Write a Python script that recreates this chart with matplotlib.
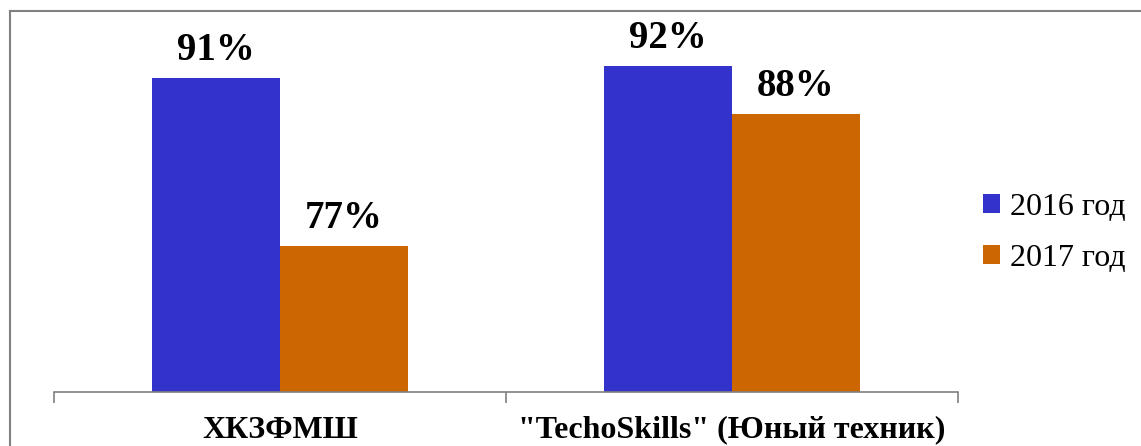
import matplotlib.pyplot as plt
import numpy as np
from matplotlib.lines import Line2D

categories = ["ХКЗФМШ", "\"TechoSkills\" (Юный техник)"]
series_names = ["2016 год", "2017 год"]
values_2016 = [91, 92]
values_2017 = [77, 88]
colors = ["#3333CC", "#CC6600"]

W, H = 1141, 446
fig = plt.figure(figsize=(W / 100, H / 100), dpi=100)
plt.rcParams["font.family"] = ["Liberation Serif", "DejaVu Serif"]

# plot area in pixel coords: x 54..958, baseline at y=392, top at y=11
ax = fig.add_axes([54 / W, (H - 392) / H, (958 - 54) / W, (392 - 11) / H])

x = np.arange(len(categories))
width = 0.283
bars1 = ax.bar(x - width / 2, values_2016, width, color=colors[0], label=series_names[0])
bars2 = ax.bar(x + width / 2, values_2017, width, color=colors[1], label=series_names[1])

for bars in (bars1, bars2):
    for b in bars:
        ax.annotate(f"{b.get_height():.0f}%", (b.get_x() + b.get_width() / 2, b.get_height()),
                    xytext=(0, 6), textcoords="offset points", ha="center", va="bottom",
                    fontsize=28, fontweight="bold")

ax.set_xlim(-0.5, 1.5)
ax.set_ylim(64.8, 64.8 + 381 / 12)
ax.set_yticks([])
ax.set_xticks([-0.5, 0.5, 1.5], minor=False)
ax.set_xticklabels([])
ax.tick_params(axis="x", length=8, color="#808080", width=1.2)
ax.set_xticks(x, minor=True)
ax.set_xticklabels(categories, minor=True, fontsize=23, fontweight="bold")
ax.tick_params(axis="x", which="minor", length=0, pad=17)
for s in ("top", "right", "left"):
    ax.spines[s].set_visible(False)
ax.spines["bottom"].set_color("#808080")
ax.spines["bottom"].set_linewidth(1.2)

ax.legend(loc="center left", bbox_to_anchor=(954 / W, (H - 233) / H), bbox_transform=fig.transFigure,
          frameon=False, fontsize=23, handlelength=0.55, handleheight=0.55, handletextpad=0.3,
          labelspacing=0.68)

# outer chart border (left and top visible)
fig.add_artist(Line2D([10 / W, 10 / W], [0, (H - 11) / H], color="#808080", lw=1.5))
fig.add_artist(Line2D([10 / W, 1], [(H - 11) / H, (H - 11) / H], color="#808080", lw=1.5))

fig.savefig("out.png", dpi=100)
